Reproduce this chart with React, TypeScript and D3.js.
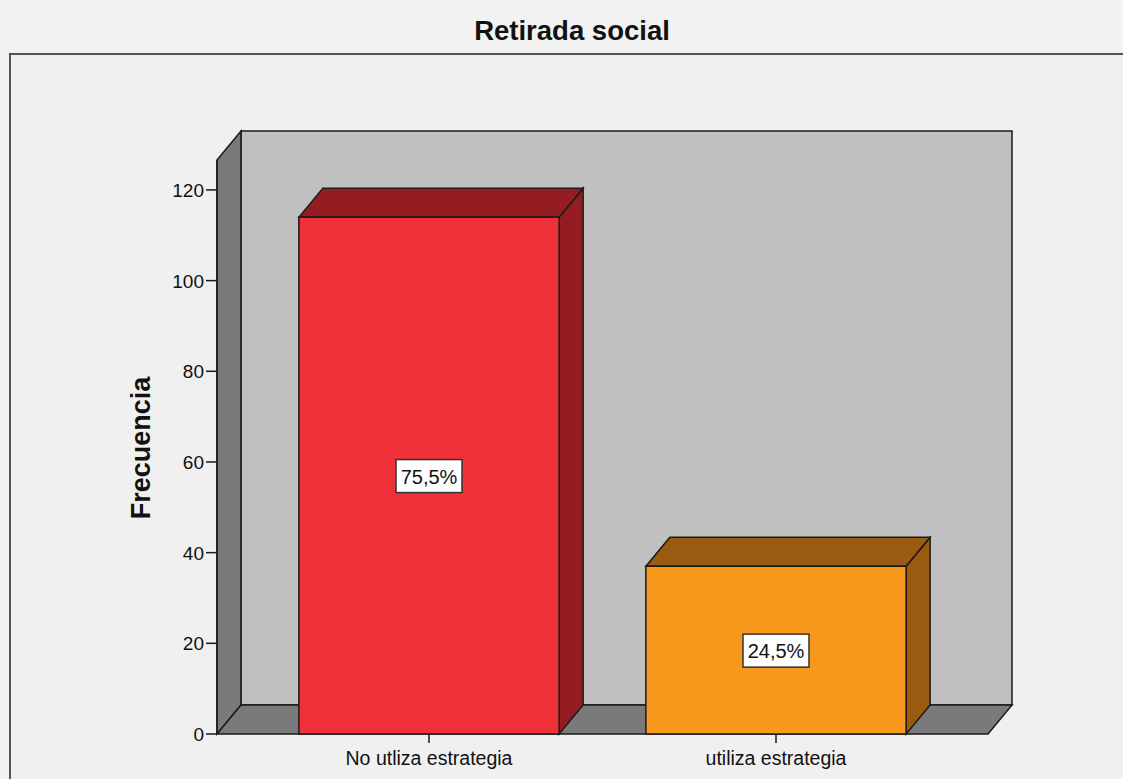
import React, { useRef, useEffect } from "react";
import * as d3 from "d3";

// values
const categories: string[] = ["No utliza estrategia", "utiliza estrategia"];
const frequencies: number[] = [114, 37];
const percentLabels: string[] = ["75,5%", "24,5%"];
const yTicks: number[] = [0, 20, 40, 60, 80, 100, 120];
const frontColors: string[] = ["#f0313a", "#f8991d"];
const sideColors: string[] = ["#951d22", "#9a5a10"];

const W = 1123;
const H = 779;
const FONT = "'Liberation Sans', Arial, sans-serif";

const App: React.FC = () => {
  const ref = useRef<SVGSVGElement>(null);

  useEffect(() => {
    const svg = d3.select(ref.current);
    svg.selectAll("*").remove();
    svg.attr("width", W).attr("height", H);

    // 3D depth offsets
    const dx = 24;
    const dy = -29;
    const left = 217;
    const right = 988;
    const bottom = 734;

    const y = d3.scaleLinear().domain([0, 126.6]).range([bottom, 160]);
    const x = d3
      .scaleBand<string>()
      .domain(categories)
      .range([left, right])
      .paddingInner(0.25)
      .paddingOuter(0.236);

    const top = y(126.6);
    const stroke = "#1a1a1a";

    svg.append("rect").attr("width", W).attr("height", H).attr("fill", "#f2f2f2");
    svg
      .append("rect")
      .attr("x", 10)
      .attr("y", 54)
      .attr("width", W + 20)
      .attr("height", H)
      .attr("fill", "#f0f0f0")
      .attr("stroke", "#555")
      .attr("stroke-width", 2);

    svg
      .append("text")
      .attr("x", 572)
      .attr("y", 40)
      .attr("text-anchor", "middle")
      .attr("font-family", FONT)
      .attr("font-weight", "bold")
      .attr("font-size", 27.5)
      .attr("fill", "#111")
      .text("Retirada social");

    const g = svg.append("g");
    const poly = (pts: [number, number][]) => "M" + pts.map((p) => p.join(",")).join("L") + "Z";

    // back wall
    g.append("path")
      .attr("d", poly([[left + dx, top + dy], [right + dx, top + dy], [right + dx, bottom + dy], [left + dx, bottom + dy]]))
      .attr("fill", "#c0c0c0")
      .attr("stroke", stroke)
      .attr("stroke-width", 1.5);
    // left wall
    g.append("path")
      .attr("d", poly([[left, top], [left + dx, top + dy], [left + dx, bottom + dy], [left, bottom]]))
      .attr("fill", "#7a7a7a")
      .attr("stroke", stroke)
      .attr("stroke-width", 1.5);
    // floor
    g.append("path")
      .attr("d", poly([[left, bottom], [left + dx, bottom + dy], [right + dx, bottom + dy], [right, bottom]]))
      .attr("fill", "#7a7a7a")
      .attr("stroke", stroke)
      .attr("stroke-width", 1.5);

    // bars
    categories.forEach((c, i) => {
      const x0 = x(c) || 0;
      const x1 = x0 + x.bandwidth();
      const yt = y(frequencies[i]);
      const bar = g.append("g");
      bar.append("path")
        .attr("d", poly([[x1, yt], [x1 + dx, yt + dy], [x1 + dx, bottom + dy], [x1, bottom]]))
        .attr("fill", sideColors[i])
        .attr("stroke", stroke)
        .attr("stroke-width", 1.5);
      bar.append("path")
        .attr("d", poly([[x0, yt], [x0 + dx, yt + dy], [x1 + dx, yt + dy], [x1, yt]]))
        .attr("fill", sideColors[i])
        .attr("stroke", stroke)
        .attr("stroke-width", 1.5);
      bar.append("rect")
        .attr("x", x0)
        .attr("y", yt)
        .attr("width", x1 - x0)
        .attr("height", bottom - yt)
        .attr("fill", frontColors[i])
        .attr("stroke", stroke)
        .attr("stroke-width", 1.5);

      // percentage label box
      const cx = (x0 + x1) / 2;
      const cy = (yt + bottom) / 2;
      const lbl = bar.append("g").attr("transform", `translate(${cx}, ${cy})`);
      lbl.append("rect")
        .attr("x", -33)
        .attr("y", -16)
        .attr("width", 66)
        .attr("height", 33)
        .attr("fill", "#ffffff")
        .attr("stroke", "#333")
        .attr("stroke-width", 1.5);
      lbl.append("text")
        .attr("y", 8)
        .attr("text-anchor", "middle")
        .attr("font-family", FONT)
        .attr("font-size", 20)
        .attr("fill", "#111")
        .text(percentLabels[i]);
    });

    // y axis
    const yAxis = g.append("g");
    yAxis.append("line")
      .attr("x1", left).attr("x2", left)
      .attr("y1", top).attr("y2", bottom)
      .attr("stroke", stroke).attr("stroke-width", 1.5);
    yTicks.forEach((t) => {
      yAxis.append("line")
        .attr("x1", left - 11).attr("x2", left)
        .attr("y1", y(t)).attr("y2", y(t))
        .attr("stroke", stroke).attr("stroke-width", 1.5);
      yAxis.append("text")
        .attr("x", left - 13)
        .attr("y", y(t) + 7)
        .attr("text-anchor", "end")
        .attr("font-family", FONT)
        .attr("font-size", 19)
        .attr("fill", "#111")
        .text(String(t));
    });

    // x axis ticks and labels
    categories.forEach((c) => {
      const cx = (x(c) || 0) + x.bandwidth() / 2;
      g.append("line")
        .attr("x1", cx).attr("x2", cx)
        .attr("y1", bottom).attr("y2", bottom + 9)
        .attr("stroke", stroke).attr("stroke-width", 1.5);
      g.append("text")
        .attr("x", cx)
        .attr("y", 765)
        .attr("text-anchor", "middle")
        .attr("font-family", FONT)
        .attr("font-size", 19.5)
        .attr("fill", "#111")
        .text(c);
    });

    svg.append("text")
      .attr("transform", `translate(150, 448) rotate(-90)`)
      .attr("text-anchor", "middle")
      .attr("font-family", FONT)
      .attr("font-weight", "bold")
      .attr("font-size", 27)
      .attr("fill", "#111")
      .text("Frecuencia");
  }, []);

  return (
    <svg
      ref={ref}
      style={{ position: "absolute", left: 0, top: 0, display: "block" }}
    ></svg>
  );
};

export default App;
